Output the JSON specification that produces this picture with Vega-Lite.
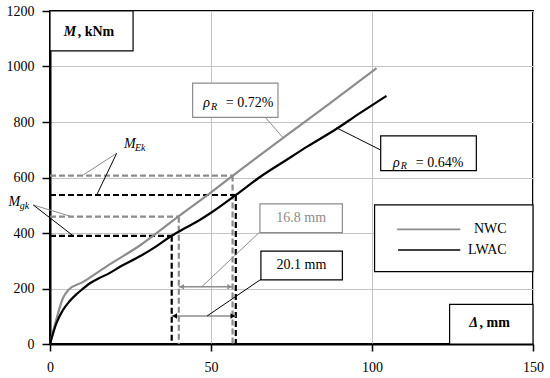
{
  "$schema": "https://vega.github.io/schema/vega-lite/v6.json",
  "width": 483,
  "height": 333,
  "autosize": {"type": "none"},
  "padding": {"left": 50, "top": 11, "right": 17, "bottom": 34},
  "background": "white",
  "config": {
    "view": {"stroke": "#000", "strokeWidth": 2},
    "font": "Liberation Serif, Times New Roman, serif",
    "text": {"font": "Liberation Serif, Times New Roman, serif"},
    "axis": {"labelFont": "Liberation Serif, Times New Roman, serif", "labelFontSize": 14, "labelColor": "#000"}
  },
  "datasets": {
    "curves": [
      {"s": "NWC", "x": 0, "y": 0}, {"s": "NWC", "x": 2, "y": 90}, {"s": "NWC", "x": 4, "y": 165}, {"s": "NWC", "x": 5.7, "y": 195},
      {"s": "NWC", "x": 10, "y": 222}, {"s": "NWC", "x": 17.6, "y": 280}, {"s": "NWC", "x": 27.9, "y": 355}, {"s": "NWC", "x": 39.8, "y": 459},
      {"s": "NWC", "x": 49.6, "y": 543}, {"s": "NWC", "x": 56.8, "y": 607}, {"s": "NWC", "x": 72.9, "y": 747}, {"s": "NWC", "x": 86.9, "y": 867},
      {"s": "NWC", "x": 101.4, "y": 994},
      {"s": "LWAC", "x": 0, "y": 0}, {"s": "LWAC", "x": 2, "y": 75}, {"s": "LWAC", "x": 4, "y": 122}, {"s": "LWAC", "x": 6, "y": 153},
      {"s": "LWAC", "x": 8, "y": 177}, {"s": "LWAC", "x": 10, "y": 197}, {"s": "LWAC", "x": 12.4, "y": 219}, {"s": "LWAC", "x": 15, "y": 236},
      {"s": "LWAC", "x": 17.6, "y": 250}, {"s": "LWAC", "x": 22, "y": 280}, {"s": "LWAC", "x": 27.9, "y": 316}, {"s": "LWAC", "x": 33, "y": 352},
      {"s": "LWAC", "x": 37.8, "y": 390}, {"s": "LWAC", "x": 42, "y": 418}, {"s": "LWAC", "x": 46.5, "y": 447}, {"s": "LWAC", "x": 50, "y": 473},
      {"s": "LWAC", "x": 57.7, "y": 537}, {"s": "LWAC", "x": 65, "y": 600}, {"s": "LWAC", "x": 73.4, "y": 663}, {"s": "LWAC", "x": 80, "y": 712},
      {"s": "LWAC", "x": 88.4, "y": 771}, {"s": "LWAC", "x": 96, "y": 830}, {"s": "LWAC", "x": 104.5, "y": 894}
    ],
    "dashed": [
      {"s": "NWC", "x": 0, "y": 607, "x2": 56.7, "y2": 607},
      {"s": "NWC", "x": 56.7, "y": 607, "x2": 56.7, "y2": 0},
      {"s": "NWC", "x": 0, "y": 459, "x2": 40, "y2": 459},
      {"s": "NWC", "x": 40, "y": 459, "x2": 40, "y2": 0},
      {"s": "LWAC", "x": 0, "y": 537, "x2": 57.7, "y2": 537},
      {"s": "LWAC", "x": 57.7, "y": 537, "x2": 57.7, "y2": 0},
      {"s": "LWAC", "x": 0, "y": 390, "x2": 37.8, "y2": 390},
      {"s": "LWAC", "x": 37.8, "y": 390, "x2": 37.8, "y2": 0}
    ],
    "arrows": [
      {"s": "NWC", "x": 40, "y": 206, "x2": 56.7, "y2": 206},
      {"s": "LWAC", "x": 37.8, "y": 101, "x2": 57.7, "y2": 101}
    ],
    "headsL": [
      {"s": "NWC", "x": 40.9, "y": 206},
      {"s": "LWAC", "x": 38.7, "y": 101}
    ],
    "headsR": [
      {"s": "NWC", "x": 55.8, "y": 206},
      {"s": "LWAC", "x": 56.8, "y": 101}
    ],
    "leaders": [
      {"s": "NWC", "x": 20.7, "y": 687, "x2": 10.3, "y2": 609},
      {"s": "LWAC", "x": 20.7, "y": 687, "x2": 14.5, "y2": 537},
      {"s": "NWC", "x": -5.2, "y": 501, "x2": 6.7, "y2": 459},
      {"s": "LWAC", "x": -5.2, "y": 501, "x2": 7.2, "y2": 390},
      {"s": "NWC", "x": 67, "y": 815, "x2": 72.4, "y2": 743},
      {"s": "LWAC", "x": 102.7, "y": 699, "x2": 89, "y2": 779},
      {"s": "NWC", "x": 64.9, "y": 401, "x2": 47.1, "y2": 206},
      {"s": "LWAC", "x": 65.5, "y": 233, "x2": 48.8, "y2": 101}
    ],
    "boxes": [
      {"s": "LWAC", "x": 0, "x2": 25.8, "y": 1200, "y2": 1056},
      {"s": "NWC", "x": 44.3, "x2": 70.8, "y": 940, "y2": 817},
      {"s": "LWAC", "x": 102.7, "x2": 132.4, "y": 750, "y2": 625},
      {"s": "LWAC", "x": 100.8, "x2": 150, "y": 501, "y2": 261},
      {"s": "LWAC", "x": 124.1, "x2": 150, "y": 143, "y2": 0},
      {"s": "NWC", "x": 65.2, "x2": 90.8, "y": 505, "y2": 401},
      {"s": "LWAC", "x": 65.5, "x2": 90.8, "y": 335, "y2": 231}
    ],
    "legendLines": [
      {"s": "NWC", "x": 107.8, "y": 413, "x2": 127.4, "y2": 413},
      {"s": "LWAC", "x": 108.1, "y": 339, "x2": 127.4, "y2": 339}
    ],
    "tBoldItalic": [
      {"t": "M", "x": 4.3, "y": 1110},
      {"t": "Δ", "x": 130.2, "y": 60}
    ],
    "tBold": [
      {"t": ", kNm", "x": 8.6, "y": 1110},
      {"t": ", mm", "x": 133.4, "y": 60}
    ],
    "tItalic": [
      {"t": "ρ", "x": 47.6, "y": 855},
      {"t": "ρ", "x": 106.5, "y": 639},
      {"t": "M", "x": 23, "y": 705},
      {"t": "M", "x": -12.9, "y": 497}
    ],
    "tSub": [
      {"t": "R", "x": 50.0, "y": 843},
      {"t": "R", "x": 108.9, "y": 631},
      {"t": "Ek", "x": 26.4, "y": 694},
      {"t": "gk", "x": -9.4, "y": 486}
    ],
    "tRegular": [
      {"t": "= 0.72%", "x": 54.6, "y": 855},
      {"t": "= 0.64%", "x": 113.6, "y": 639}
    ],
    "tLegend": [
      {"t": "NWC", "x": 141.8, "y": 413},
      {"t": "LWAC", "x": 141.8, "y": 339}
    ],
    "tDims": [
      {"s": "NWC", "t": "16.8 mm", "x": 78, "y": 453},
      {"s": "LWAC", "t": "20.1 mm", "x": 78.1, "y": 283}
    ]
  },
  "encoding": {
    "x": {
      "field": "x", "type": "quantitative",
      "scale": {"domain": [0, 150], "nice": false, "zero": false},
      "axis": {
        "values": [0, 50, 100, 150], "format": "d", "title": null, "grid": true, "gridColor": "#c4c4c4", "gridWidth": 1,
        "domainColor": "#000", "domainWidth": 2, "tickColor": "#000", "tickWidth": 1.5, "tickSize": 7,
        "labelFontSize": 14, "labelColor": "#000", "labelPadding": 9, "labelFlush": false
      }
    },
    "y": {
      "field": "y", "type": "quantitative",
      "scale": {"domain": [0, 1200], "nice": false, "zero": false},
      "axis": {
        "values": [0, 200, 400, 600, 800, 1000, 1200], "format": "d", "title": null, "grid": true, "gridColor": "#c4c4c4", "gridWidth": 1,
        "domainColor": "#000", "domainWidth": 2, "tickColor": "#000", "tickWidth": 1.5, "tickSize": 8,
        "labelFontSize": 14, "labelColor": "#000", "labelPadding": 8
      }
    }
  },
  "layer": [
    {
      "data": {"name": "dashed"},
      "mark": {"type": "rule", "strokeWidth": 2.2, "strokeDash": [6, 3]},
      "encoding": {
        "x2": {"field": "x2"}, "y2": {"field": "y2"},
        "color": {"field": "s", "type": "nominal", "scale": {"domain": ["NWC", "LWAC"], "range": ["#8c8c8c", "#000000"]}, "legend": null}
      }
    },
    {
      "data": {"name": "curves"},
      "mark": {"type": "line", "strokeWidth": 2.2, "interpolate": "monotone"},
      "encoding": {
        "color": {"field": "s", "type": "nominal", "scale": {"domain": ["NWC", "LWAC"], "range": ["#8c8c8c", "#000000"]}, "legend": null}
      }
    },
    {
      "data": {"name": "arrows"},
      "mark": {"type": "rule", "strokeWidth": 1.5, "color": "#8c8c8c"},
      "encoding": {"x2": {"field": "x2"}, "y2": {"field": "y2"}}
    },
    {
      "data": {"name": "headsL"},
      "mark": {"type": "point", "shape": "triangle-left", "filled": true, "size": 30, "opacity": 1},
      "encoding": {
        "color": {"field": "s", "type": "nominal", "scale": {"domain": ["NWC", "LWAC"], "range": ["#8c8c8c", "#000000"]}, "legend": null}
      }
    },
    {
      "data": {"name": "headsR"},
      "mark": {"type": "point", "shape": "triangle-right", "filled": true, "size": 30, "opacity": 1},
      "encoding": {
        "color": {"field": "s", "type": "nominal", "scale": {"domain": ["NWC", "LWAC"], "range": ["#8c8c8c", "#000000"]}, "legend": null}
      }
    },
    {
      "data": {"name": "leaders"},
      "mark": {"type": "rule", "strokeWidth": 1},
      "encoding": {
        "x2": {"field": "x2"}, "y2": {"field": "y2"},
        "color": {"field": "s", "type": "nominal", "scale": {"domain": ["NWC", "LWAC"], "range": ["#8c8c8c", "#000000"]}, "legend": null}
      }
    },
    {
      "data": {"name": "boxes"},
      "mark": {"type": "rect", "fill": "white", "strokeWidth": 1.2},
      "encoding": {
        "x2": {"field": "x2"}, "y2": {"field": "y2"},
        "stroke": {"field": "s", "type": "nominal", "scale": {"domain": ["NWC", "LWAC"], "range": ["#8c8c8c", "#000000"]}, "legend": null}
      }
    },
    {
      "data": {"name": "legendLines"},
      "mark": {"type": "rule", "strokeWidth": 1.6},
      "encoding": {
        "x2": {"field": "x2"}, "y2": {"field": "y2"},
        "color": {"field": "s", "type": "nominal", "scale": {"domain": ["NWC", "LWAC"], "range": ["#8c8c8c", "#000000"]}, "legend": null}
      }
    },
    {
      "data": {"name": "tBoldItalic"},
      "mark": {"type": "text", "fontSize": 14, "fontWeight": "bold", "fontStyle": "italic", "align": "left", "baseline": "alphabetic", "color": "#000"},
      "encoding": {"text": {"field": "t"}}
    },
    {
      "data": {"name": "tBold"},
      "mark": {"type": "text", "fontSize": 14, "fontWeight": "bold", "align": "left", "baseline": "alphabetic", "color": "#000"},
      "encoding": {"text": {"field": "t"}}
    },
    {
      "data": {"name": "tItalic"},
      "mark": {"type": "text", "fontSize": 14, "fontStyle": "italic", "align": "left", "baseline": "alphabetic", "color": "#000"},
      "encoding": {"text": {"field": "t"}}
    },
    {
      "data": {"name": "tSub"},
      "mark": {"type": "text", "fontSize": 10, "fontStyle": "italic", "align": "left", "baseline": "alphabetic", "color": "#000"},
      "encoding": {"text": {"field": "t"}}
    },
    {
      "data": {"name": "tRegular"},
      "mark": {"type": "text", "fontSize": 14, "align": "left", "baseline": "alphabetic", "color": "#000"},
      "encoding": {"text": {"field": "t"}}
    },
    {
      "data": {"name": "tLegend"},
      "mark": {"type": "text", "fontSize": 14, "align": "right", "baseline": "middle", "color": "#000"},
      "encoding": {"text": {"field": "t"}}
    },
    {
      "data": {"name": "tDims"},
      "mark": {"type": "text", "fontSize": 14, "align": "center", "baseline": "middle"},
      "encoding": {
        "text": {"field": "t"},
        "color": {"field": "s", "type": "nominal", "scale": {"domain": ["NWC", "LWAC"], "range": ["#8c8c8c", "#000000"]}, "legend": null}
      }
    }
  ]
}
